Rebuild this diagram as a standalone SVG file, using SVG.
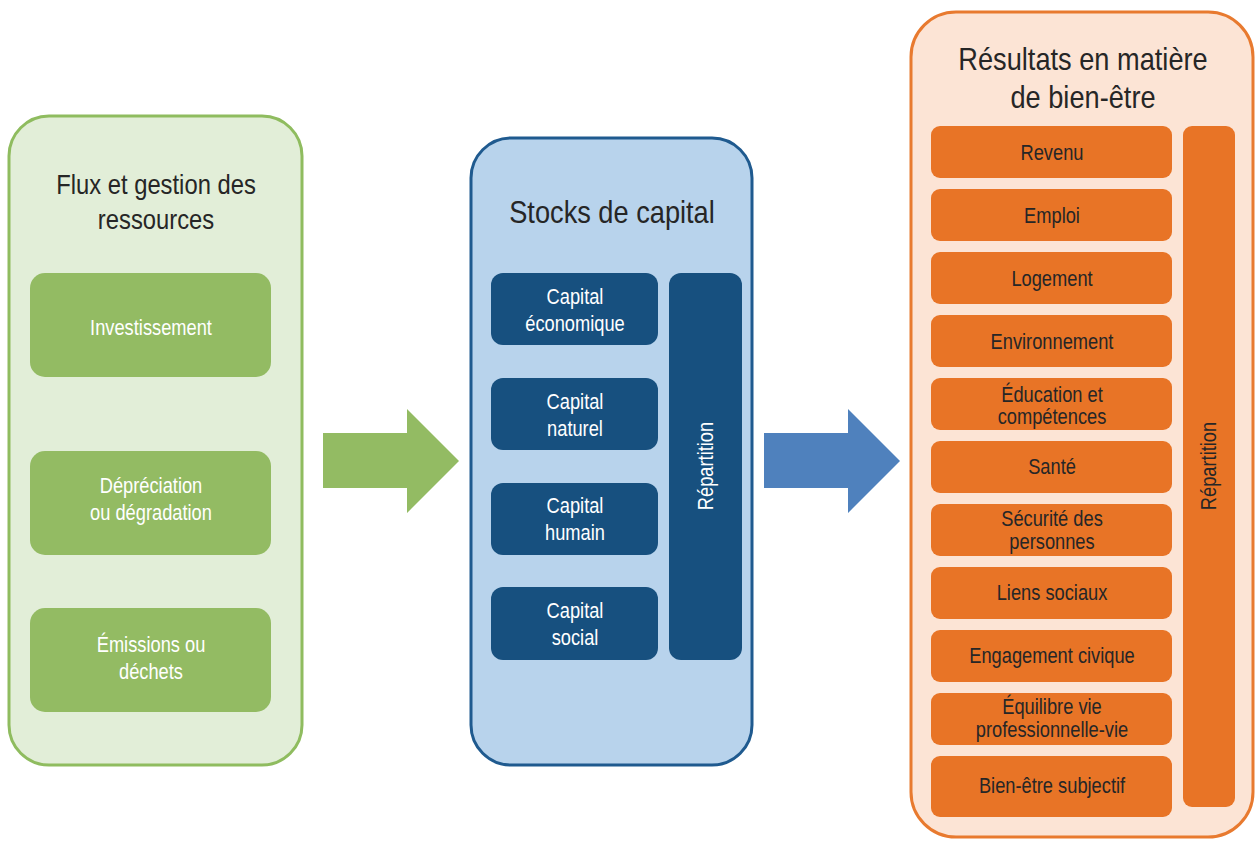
<svg xmlns="http://www.w3.org/2000/svg" width="1257" height="842" viewBox="0 0 1257 842">
<style>
text{font-family:"Liberation Sans",Arial,sans-serif;text-anchor:middle}
.title{fill:#262626}
.lt{fill:#ffffff;font-size:21.5px}
.dt{fill:#262626;font-size:21.5px}
.gbox{fill:#93bb63}
.bbox{fill:#17507f}
.obox{fill:#e87426}
</style>
<rect width="1257" height="842" fill="#ffffff"/>
<g id="connectors">
<polygon points="323,433 407,433 407,409 459,461 407,513 407,488 323,488" fill="#93bb63"/>
<polygon points="764,433 848,433 848,409 900,461 848,513 848,488 764,488" fill="#4f81bd"/>
</g>
<g id="flux">
<rect x="9" y="116" width="293" height="649" rx="40" fill="#e2eed8" stroke="#8fbc5f" stroke-width="3"/>
<text class="title" transform="translate(156 194) scale(.85 1)" style="font-size:28px">Flux et gestion des</text>
<text class="title" transform="translate(156 229) scale(.85 1)" style="font-size:28px">ressources</text>
</g>
<g id="investissement"><rect class="gbox" x="30" y="273" width="241" height="104" rx="15"/><text class="lt" transform="translate(151 335) scale(.85 1)">Investissement</text></g>
<g id="depreciation"><rect class="gbox" x="30" y="451" width="241" height="104" rx="15"/><text class="lt" transform="translate(151 493) scale(.85 1)">Dépréciation</text><text class="lt" transform="translate(151 520) scale(.85 1)">ou dégradation</text></g>
<g id="emissions"><rect class="gbox" x="30" y="608" width="241" height="104" rx="15"/><text class="lt" transform="translate(151 652) scale(.85 1)">Émissions ou</text><text class="lt" transform="translate(151 679) scale(.85 1)">déchets</text></g>

<g id="stocks">
<rect x="471" y="138" width="281" height="627" rx="40" fill="#b8d3ec" stroke="#1f5a8f" stroke-width="3"/>
<text class="title" transform="translate(612 223) scale(.85 1)" style="font-size:32px">Stocks de capital</text>
</g>
<g id="cap-eco"><rect class="bbox" x="491" y="273" width="167" height="72" rx="12"/><text class="lt" transform="translate(575 304) scale(.85 1)">Capital</text><text class="lt" transform="translate(575 331) scale(.85 1)">économique</text></g>
<g id="cap-nat"><rect class="bbox" x="491" y="378" width="167" height="72" rx="12"/><text class="lt" transform="translate(575 409) scale(.85 1)">Capital</text><text class="lt" transform="translate(575 436) scale(.85 1)">naturel</text></g>
<g id="cap-hum"><rect class="bbox" x="491" y="483" width="167" height="72" rx="12"/><text class="lt" transform="translate(575 513) scale(.85 1)">Capital</text><text class="lt" transform="translate(575 540) scale(.85 1)">humain</text></g>
<g id="cap-soc"><rect class="bbox" x="491" y="587" width="167" height="73" rx="12"/><text class="lt" transform="translate(575 618) scale(.85 1)">Capital</text><text class="lt" transform="translate(575 645) scale(.85 1)">social</text></g>
<g id="rep-stocks"><rect class="bbox" x="669" y="273" width="73" height="387" rx="12"/><text class="lt" transform="translate(706 466) rotate(-90) scale(.85 1)" y="7">Répartition</text></g>

<g id="resultats">
<rect x="911" y="12" width="342" height="825" rx="45" fill="#fce4d5" stroke="#e87a2f" stroke-width="3"/>
<text class="title" transform="translate(1083 70) scale(.85 1)" style="font-size:32px">Résultats en matière</text>
<text class="title" transform="translate(1083 108) scale(.85 1)" style="font-size:32px">de bien-être</text>
</g>
<g id="revenu"><rect class="obox" x="931" y="126" width="241" height="52" rx="9"/><text class="dt" transform="translate(1052 160) scale(.85 1)">Revenu</text></g>
<g id="emploi"><rect class="obox" x="931" y="189" width="241" height="52" rx="9"/><text class="dt" transform="translate(1052 223) scale(.85 1)">Emploi</text></g>
<g id="logement"><rect class="obox" x="931" y="252" width="241" height="52" rx="9"/><text class="dt" transform="translate(1052 286) scale(.85 1)">Logement</text></g>
<g id="environnement"><rect class="obox" x="931" y="315" width="241" height="52" rx="9"/><text class="dt" transform="translate(1052 349) scale(.85 1)">Environnement</text></g>
<g id="education"><rect class="obox" x="931" y="378" width="241" height="52" rx="9"/><text class="dt" transform="translate(1052 402) scale(.85 1)">Éducation et</text><text class="dt" transform="translate(1052 424) scale(.85 1)">compétences</text></g>
<g id="sante"><rect class="obox" x="931" y="441" width="241" height="52" rx="9"/><text class="dt" transform="translate(1052 474) scale(.85 1)">Santé</text></g>
<g id="securite"><rect class="obox" x="931" y="504" width="241" height="52" rx="9"/><text class="dt" transform="translate(1052 526) scale(.85 1)">Sécurité des</text><text class="dt" transform="translate(1052 549) scale(.85 1)">personnes</text></g>
<g id="liens"><rect class="obox" x="931" y="567" width="241" height="52" rx="9"/><text class="dt" transform="translate(1052 600) scale(.85 1)">Liens sociaux</text></g>
<g id="engagement"><rect class="obox" x="931" y="630" width="241" height="52" rx="9"/><text class="dt" transform="translate(1052 663) scale(.85 1)">Engagement civique</text></g>
<g id="equilibre"><rect class="obox" x="931" y="693" width="241" height="52" rx="9"/><text class="dt" transform="translate(1052 714) scale(.85 1)">Équilibre vie</text><text class="dt" transform="translate(1052 737) scale(.85 1)">professionnelle-vie</text></g>
<g id="bien-etre"><rect class="obox" x="931" y="756" width="241" height="61" rx="9"/><text class="dt" transform="translate(1052 793) scale(.85 1)">Bien-être subjectif</text></g>
<g id="rep-resultats"><rect class="obox" x="1183" y="126" width="52" height="681" rx="9"/><text class="dt" transform="translate(1209 466) rotate(-90) scale(.85 1)" y="7">Répartition</text></g>
</svg>
